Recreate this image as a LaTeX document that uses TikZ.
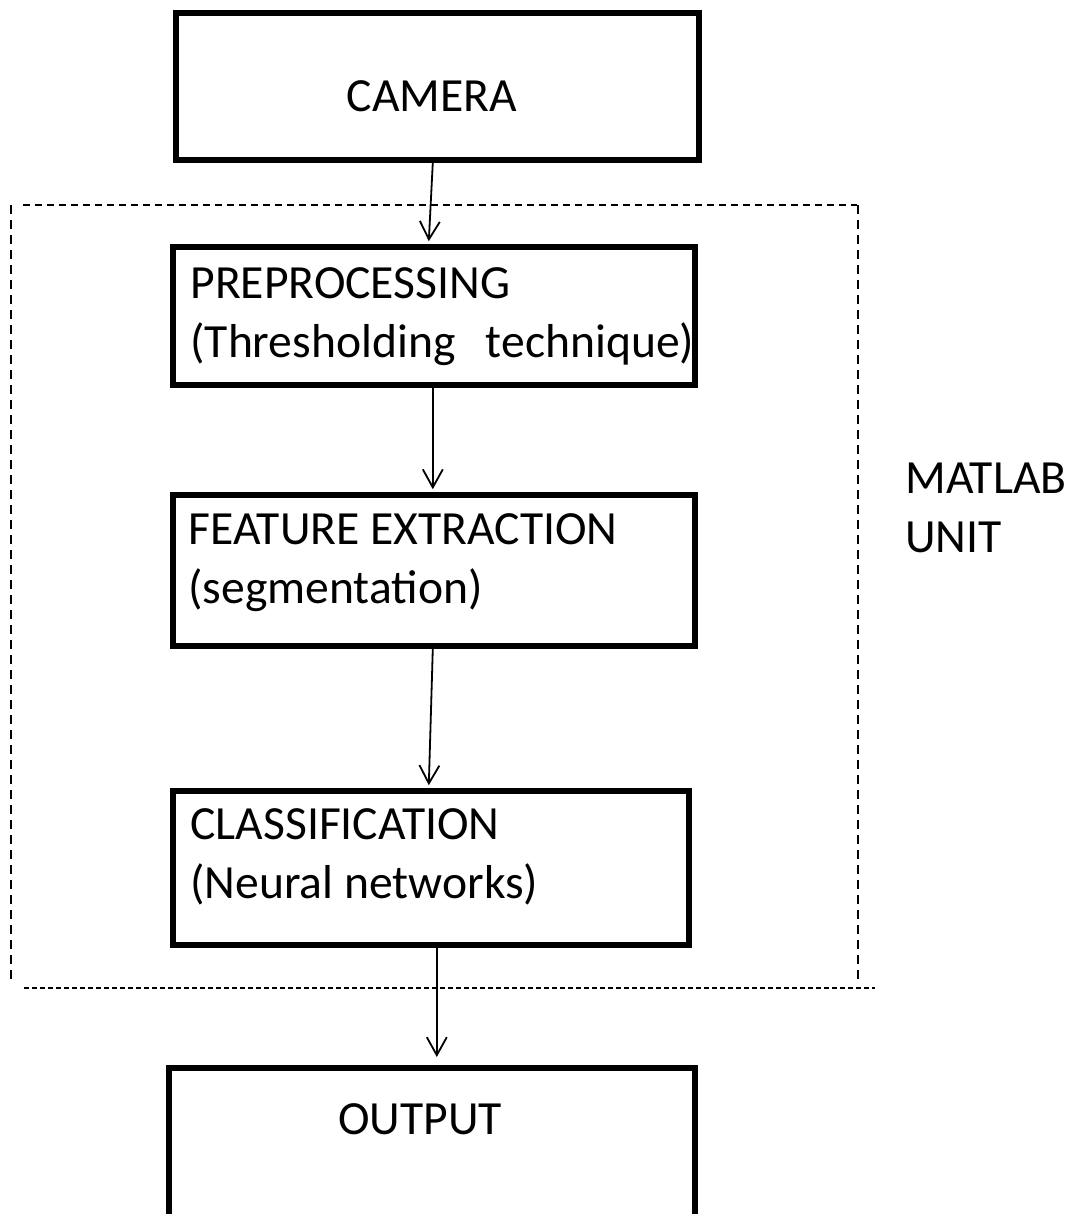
\documentclass[tikz,border=0pt]{standalone}
\usepackage{fontspec}
\setmainfont{Carlito}
\usetikzlibrary{arrows.meta}
\begin{document}
\begin{tikzpicture}[x=0.5pt,y=-0.5pt,
  box/.style={draw, line width=2.8pt, inner sep=0pt, anchor=north west},
  txt/.style={inner sep=0pt, anchor=base west, align=left, font=\fontsize{23.8pt}{29.5pt}\selectfont},
  ctxt/.style={inner sep=0pt, anchor=base, font=\fontsize{23.8pt}{29.5pt}\selectfont},
  arr/.style={line width=0.9pt, -{Straight Barb[length=9pt,width=10pt,line width=0.9pt]}},
  dtop/.style={line width=0.7pt, dash pattern=on 3.5pt off 2.5pt},
  dside/.style={line width=0.8pt, dash pattern=on 4.5pt off 3pt},
  dbot/.style={line width=1.2pt, dash pattern=on 2.5pt off 1.5pt}]
\useasboundingbox (0,0) rectangle (1068,1214);
\clip (0,0) rectangle (1068,1214);

% boxes
\node[box, minimum width=261.5pt, minimum height=73.5pt] (cam) at (173,10) {};
\node[box, minimum width=261pt, minimum height=69pt] (pre) at (170,244) {};
\node[box, minimum width=261pt, minimum height=75.5pt] (feat) at (170,492) {};
\node[box, minimum width=258pt, minimum height=77pt] (cls) at (170,788) {};
\node[box, minimum width=263pt, minimum height=87.5pt] (out) at (166,1065) {};

% texts (anchor = baseline of the last line)
\node[ctxt] (camtxt) at (432,112) {CAMERA};
\node[txt] (pretxt) at (190,357) {PREPROCESSING\\\hbox to 252pt{(Thresholding\hfill technique)}};
\node[txt] (feattxt) at (188,603) {FEATURE EXTRACTION\\(segmentation)};
\node[txt] (clstxt) at (190,898) {CLASSIFICATION\\(Neural networks)};
\node[ctxt] (outtxt) at (420,1134) {OUTPUT};
\node[txt] (matlab) at (905,552) {MATLAB\\UNIT};

% dashed frame (MATLAB unit)
\draw[dtop] (23,205) -- (857,205);
\draw[dside] (11,205) -- (11,984);
\draw[dside] (858,205) -- (858,984);
\draw[dbot] (24,988) -- (875,988);

% connectors
\draw[arr] ([xshift=-2.25pt]cam.south) -- ([xshift=-2.5pt,yshift=1.4pt]pre.north);
\draw[arr] ([xshift=-0.5pt]pre.south) -- ([xshift=-0.5pt,yshift=1.4pt]feat.north);
\draw[arr] ([xshift=-0.5pt]feat.south) -- ([xshift=-1pt,yshift=1.4pt]cls.north);
\draw[arr] ([xshift=3pt]cls.south) -- ([xshift=2.5pt,yshift=4pt]out.north);
\end{tikzpicture}
\end{document}
